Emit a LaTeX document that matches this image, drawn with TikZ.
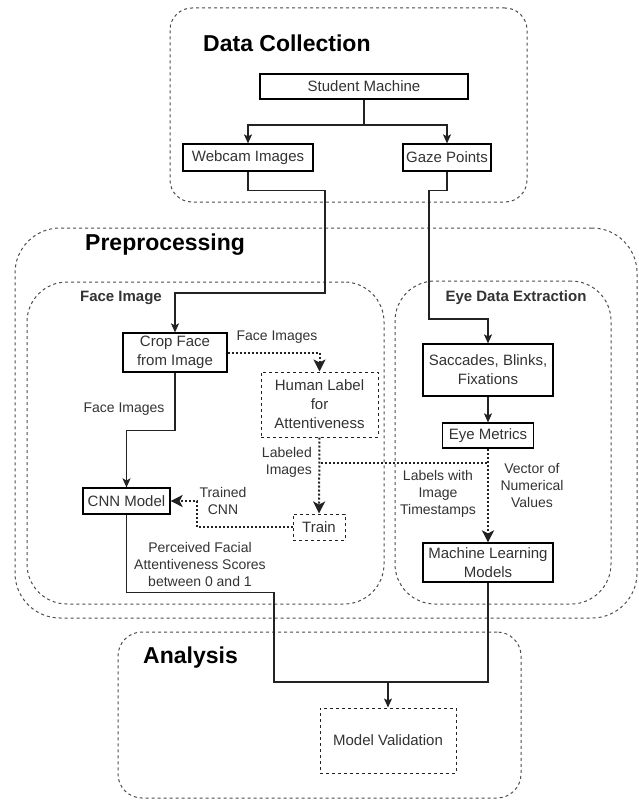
\documentclass[tikz,border=0pt]{standalone}
\usepackage{fontspec}
\setmainfont{Liberation Sans}
\usetikzlibrary{arrows.meta}
\definecolor{txt}{HTML}{333333}
\definecolor{edgec}{HTML}{222222}
\definecolor{cont}{HTML}{4D4D4D}
\tikzset{
  container/.style={draw=cont, line width=1pt, dash pattern=on 3pt off 3pt, inner sep=0pt},
  boxn/.style={draw=black, line width=1.2pt, fill=white, inner sep=0pt, align=center, text=txt,
    font=\fontsize{15}{19}\selectfont},
  dboxn/.style={boxn, draw=edgec, line width=1pt, dash pattern=on 3pt off 3pt},
  ttl/.style={font=\fontsize{23}{27}\selectfont\bfseries, text=black, inner sep=0pt},
  sttl/.style={font=\fontsize{15}{18}\selectfont\bfseries, text=txt, inner sep=0pt},
  lbl/.style={font=\fontsize{14}{17}\selectfont, text=txt, align=center, inner sep=0pt},
  sedge/.style={draw=edgec, line width=1.2pt, -{Stealth[length=9pt,width=8pt,inset=2pt]}},
  sline/.style={draw=edgec, line width=1.2pt},
  dedge/.style={draw=edgec, line width=2pt, dash pattern=on 2pt off 2pt, -{Stealth[length=12pt,width=12pt,inset=3pt]}},
  dline/.style={draw=edgec, line width=2pt, dash pattern=on 2pt off 2pt},
}
\begin{document}
\begin{tikzpicture}[x=1pt,y=-1pt]
\useasboundingbox (0,0) rectangle (639,800);
% containers
\node[container, minimum width=357pt, minimum height=194pt, rounded corners=22pt] (dc) at (348.5,105) {};
\node[container, minimum width=622pt, minimum height=390pt, rounded corners=45pt] (pp) at (326,423) {};
\node[container, minimum width=357pt, minimum height=322pt, rounded corners=40pt] (fi) at (205.5,443) {};
\node[container, minimum width=216pt, minimum height=323pt, rounded corners=40pt] (ed) at (503,442.5) {};
\node[container, minimum width=403pt, minimum height=166pt, rounded corners=24pt] (an) at (319.5,715) {};
% titles
\node[ttl, anchor=west] (tdc) at (203,43) {Data Collection};
\node[ttl, anchor=west] (tpp) at (85,245) {Preprocessing};
\node[sttl] (tfi) at (121,298) {Face Image};
\node[sttl] (ted) at (516,298) {Eye Data Extraction};
\node[ttl, anchor=west] (tan) at (143,658) {Analysis};
% boxes
\node[boxn, minimum width=208pt, minimum height=25pt] (sm) at (364,86.5) {Student Machine};
\node[boxn, minimum width=130pt, minimum height=27pt] (wi) at (248,157.5) {Webcam Images};
\node[boxn, minimum width=88pt, minimum height=27pt] (gp) at (447,157.5) {Gaze Points};
\node[boxn, minimum width=104pt, minimum height=39pt] (crop) at (175,352.5) {Crop Face\\from Image};
\node[dboxn, minimum width=117pt, minimum height=65pt] (hl) at (319.5,404.5) {Human Label\\for\\Attentiveness};
\node[dboxn, minimum width=52pt, minimum height=26pt] (train) at (319,527) {Train};
\node[boxn, minimum width=87pt, minimum height=26pt] (cnn) at (126.5,501) {CNN Model};
\node[boxn, minimum width=130pt, minimum height=52pt] (sacc) at (488,370) {Saccades, Blinks,\\Fixations};
\node[boxn, minimum width=91pt, minimum height=25pt] (em) at (488,435.5) {Eye Metrics};
\node[boxn, minimum width=130pt, minimum height=39pt] (ml) at (488,562.5) {Machine Learning\\Models};
\node[dboxn, minimum width=136pt, minimum height=65pt] (mv) at (388,740.5) {Model Validation};
% junction coordinates
\coordinate (smj) at (364,125);
\coordinate (mvj) at (388,682);
\coordinate (lt) at (321,463);
\coordinate (emj) at (488,463);
% edges
\draw[sedge] (sm.south) -- (smj) -| (wi.north);
\draw[sedge] (smj) -| (gp.north);
\draw[sedge] (wi.south) -- ++(0,19) -| (325,293) -| (crop.north);
\draw[sedge] (gp.south) -- ++(0,19) -| (429,319) -| (sacc.north);
\draw[sedge] (sacc.south) -- (em.north);
\draw[sedge] (crop.south) -- ++(0,58) -| (cnn.north);
\draw[dedge] (crop.east) -| (hl.north);
\draw[dedge] (hl.south) -- (train.north);
\draw[dedge] (train.west) -- (197,527) |- (cnn.east);
\draw[dedge] (em.south) -- (ml.north);
\draw[dline] (lt) -- (emj);
\draw[sline] (cnn.south) -- ++(0,78) -| (274,682) -- (mvj);
\draw[sline] (ml.south) |- (mvj);
\draw[sedge] (mvj) -- (mv.north);
% labels
\node[lbl] (l1) at (277,337) {Face Images};
\node[lbl] (l2) at (124,409) {Face Images};
\node[lbl, anchor=east, align=right] (l3) at (312,462) {Labeled\\Images};
\node[lbl] (l4) at (223,501) {Trained\\CNN};
\node[lbl] (l5) at (438,494) {Labels with\\Image\\Timestamps};
\node[lbl] (l6) at (532,485) {Vector of\\Numerical\\Values};
\node[lbl] (l7) at (200,564) {Perceived Facial\\Attentiveness Scores\\between 0 and 1};
\end{tikzpicture}
\end{document}
